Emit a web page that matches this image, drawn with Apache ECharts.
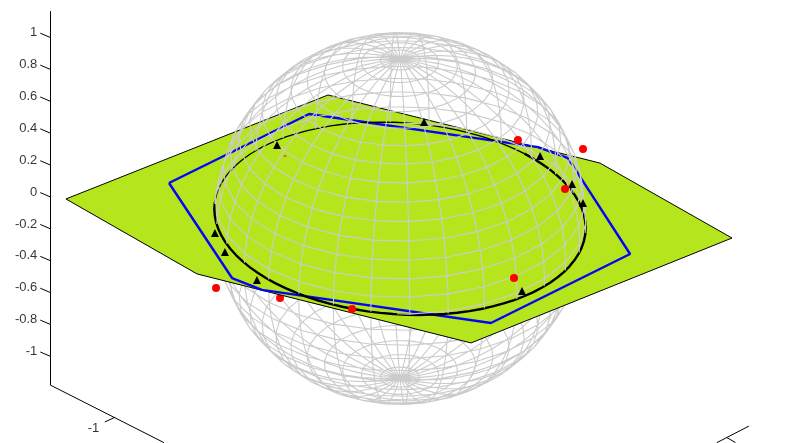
<!DOCTYPE html>
<html>
<head>
<meta charset="utf-8">
<style>
	html, body { margin: 0; padding: 0; background: #fff; }
	#main { width: 799px; height: 443px; }
</style>
<script src="https://cdn.jsdelivr.net/npm/echarts@6/dist/echarts.min.js"></script>
</head>
<body>
<div id="main"></div>
<script>
// everything is in view units: 1 = sphere radius, origin = sphere centre
const planeOutline = [[-1.796, .105], [-.387, .664], [1.075, .298], [1.785, -.105], [.382, -.669], [-1.091, -.298]];
const hexagon = [[-1.242, .191], [-.489, .562], [.742, .384], [.903, .325], [1.237, -.191], [.489, -.562], [-.742, -.384], [-.903, -.320], [-1.242, .191]];
const redPoints = [[-.989, -.374], [.634, .422], [.984, .374], [.887, .159], [.613, -.320], [-.258, -.487]];
const redHidden = [[-.645, -.427]];
const redSliver = [[-.626, .336], [-.610, .336]];
const circleMarkers = [[-.995, -.078], [-.941, -.180], [-.769, -.331],
	[.129, .519], [.753, .336], [.925, .185], [.984, .083], [.656, -.390], [-.661, .395]];

const zTicks = [1, .8, .6, .4, .2, 0, -.2, -.4, -.6, -.8, -1];
const zTickLabels = ['1', '0.8', '0.6', '0.4', '0.2', '0', '-0.2', '-0.4', '-0.6', '-0.8', '-1'];
const zAxisLine = [[-1.879, 1.115], [-1.879, -.896]];
const floorLeft = [[-1.879, -.896], [-1.269, -1.205]];
const floorLeftTick = [[-1.531, -1.068], [-1.587, -1.094]];
const floorRight = [[1.704, -1.205], [1.876, -1.116]];
const floorRightTick = [[1.758, -1.178], [1.804, -1.205]];
const xTickLabel = [[-1.648, -1.128]];

const latitudes = [];
for (let a = -84; a <= 84; a += 6) latitudes.push(a);
const longitudes = [];
for (let a = -177; a < 180; a += 12) longitudes.push(a);

const elevation = 31 * Math.PI / 180;
const circleTilt = 4 * Math.PI / 180;
const circleMinor = .515;
const normal = [Math.sqrt(1 - circleMinor * circleMinor) * Math.sin(circleTilt), Math.sqrt(1 - circleMinor * circleMinor) * Math.cos(circleTilt), circleMinor];

function project(latDeg, lonDeg) {
	const la = latDeg * Math.PI / 180, lo = lonDeg * Math.PI / 180;
	const r = Math.cos(la) * Math.sin(lo);
	const f = Math.cos(la) * Math.cos(lo);
	const z = Math.sin(la);
	const s = z * Math.cos(elevation) - f * Math.sin(elevation);
	const t = z * Math.sin(elevation) + f * Math.cos(elevation);
	return { u: r, v: s, side: r * normal[0] + s * normal[1] + t * normal[2] };
}

// split a mesh line at the plane, front bits go over the plane, back bits under it
function addWire(pts, above, below) {
	const gap = [NaN, NaN];
	for (let i = 0; i < pts.length - 1; i++) {
		const a = pts[i], b = pts[i + 1];
		if (a.side >= 0 && b.side >= 0) {
			above.push([a.u, a.v], [b.u, b.v], gap);
		} else if (a.side < 0 && b.side < 0) {
			below.push([a.u, a.v], [b.u, b.v], gap);
		} else {
			const k = a.side / (a.side - b.side);
			const m = [a.u + (b.u - a.u) * k, a.v + (b.v - a.v) * k];
			const up = a.side >= 0 ? a : b, dn = a.side >= 0 ? b : a;
			above.push([up.u, up.v], m, gap);
			below.push([dn.u, dn.v], m, gap);
		}
	}
}

const wireAbove = [], wireBelow = [];
latitudes.forEach(la => {
	const ring = [];
	longitudes.forEach(lo => ring.push(project(la, lo)));
	ring.push(ring[0]);
	addWire(ring, wireAbove, wireBelow);
});
longitudes.forEach(lo => {
	const arc = [project(-90, lo)];
	latitudes.forEach(la => arc.push(project(la, lo)));
	arc.push(project(90, lo));
	addWire(arc, wireAbove, wireBelow);
});

function circlePoint(deg) {
	const a = deg * Math.PI / 180;
	return [Math.cos(a) * Math.cos(circleTilt) + Math.sin(a) * circleMinor * Math.sin(circleTilt),
		-Math.cos(a) * Math.sin(circleTilt) + Math.sin(a) * circleMinor * Math.cos(circleTilt)];
}
const circleThin = [], circleThick = [];
for (let d = 50; d <= 178; d += 4) circleThin.push(circlePoint(d));
for (let d = 178; d <= 410; d += 4) circleThick.push(circlePoint(d));

function lineSeries(data, color, width, z) {
	return {
		type: 'line', data: data, z: z, silent: true, symbol: 'none', animation: false,
		connectNulls: false, lineStyle: { color: color, width: width }
	};
}

const tickSeries = [];
zTicks.forEach(t => {
	const y = .1156 + t * .857;
	tickSeries.push(lineSeries([[-1.879, y], [-1.934, y + .0237]], '#000', 1, 8));
});

const option = {
	backgroundColor: '#fff',
	animation: false,
	grid: { left: 0, right: 0, top: 0, bottom: 0 },
	xAxis: { type: 'value', min: -2.1505, max: 2.1452, show: false },
	yAxis: { type: 'value', min: -1.2070, max: 1.1747, show: false },
	series: [
		lineSeries(wireBelow, '#cbcbcb', 1.1, 1),
		{
			type: 'scatter', data: redHidden, z: 2, silent: true, symbol: 'circle', symbolSize: 8,
			itemStyle: { color: '#f00', opacity: 1 }
		},
		{
			type: 'custom', z: 3, silent: true, data: [0],
			renderItem: function(params, api) {
				return {
					type: 'polygon',
					shape: { points: planeOutline.map(p => api.coord(p)) },
					style: { fill: '#b5e61d', stroke: '#000', lineWidth: 1 }
				};
			}
		},
		lineSeries(hexagon, '#0505f5', 2.4, 4),
		lineSeries(redSliver, '#f00', 1, 4),
		lineSeries(circleThin, '#000', 1.3, 5),
		lineSeries(circleThick, '#000', 2.4, 5),
		lineSeries(wireAbove, '#cbcbcb', 1.1, 6),
		{
			type: 'scatter', data: circleMarkers, z: 7, silent: true, symbol: 'triangle', symbolSize: 8,
			itemStyle: { color: '#000', opacity: 1 }
		},
		{
			type: 'scatter', data: redPoints, z: 7, silent: true, symbol: 'circle', symbolSize: 8,
			itemStyle: { color: '#f00', opacity: 1 }
		},
		lineSeries(zAxisLine, '#000', 1, 8),
		lineSeries(floorLeft, '#000', 1, 8),
		lineSeries(floorLeftTick, '#000', 1, 8),
		lineSeries(floorRight, '#000', 1, 8),
		lineSeries(floorRightTick, '#000', 1, 8),
		...tickSeries,
		{
			type: 'scatter', z: 9, silent: true, symbolSize: 0,
			data: zTicks.map((t, i) => ({ value: [-1.95, .1156 + t * .857 + .026], name: zTickLabels[i] })),
			label: { show: true, position: 'left', distance: 0, formatter: '{b}', color: '#000', fontFamily: 'Liberation Sans', fontSize: 13 }
		},
		{
			type: 'scatter', z: 9, silent: true, symbolSize: 0,
			data: xTickLabel.map(p => ({ value: p, name: '-1' })),
			label: { show: true, position: 'inside', formatter: '{b}', color: '#000', fontFamily: 'Liberation Sans', fontSize: 13 }
		}
	]
};

const chart = echarts.init(document.getElementById('main'), null, { renderer: 'canvas' });
chart.setOption(option);
</script>
</body>
</html>
